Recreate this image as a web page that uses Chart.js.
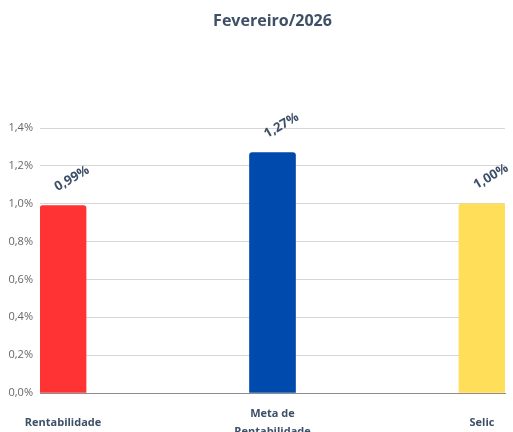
<!DOCTYPE html>
<html>
<head>
<meta charset="utf-8">
<script src="https://cdn.jsdelivr.net/npm/chart.js@4/dist/chart.umd.min.js"></script>
<style>
  html, body { margin: 0; padding: 0; background: #fff; overflow: hidden; }
  canvas { display: block; }
</style>
</head>
<body>
<canvas id="chart" width="513" height="432"></canvas>
<script>
// Chart data
const chartTitle = 'Fevereiro/2026';
const categories = [['Rentabilidade'], ['Meta de', 'Rentabilidade'], ['Selic']];
const values = [0.99, 1.27, 1.00];
const barColors = ['#FF3333', '#004AAD', '#FFDE59'];
const yTicks = [0, 0.2, 0.4, 0.6, 0.8, 1.0, 1.2, 1.4];

const fmtPct = (v, d) => v.toFixed(d).replace('.', ',') + '%';
const darkText = '#3d5068';

// draws the title over the plot area and the rotated value labels
const labelsPlugin = {
    id: 'labels',
    afterDatasetsDraw(chart) {
        const ctx = chart.ctx;
        const area = chart.chartArea;
        ctx.save();
        ctx.fillStyle = darkText;
        ctx.textAlign = 'center';
        ctx.textBaseline = 'middle';
        ctx.font = 'bold 16px "Open Sans"';
        ctx.fillText(chartTitle, (area.left + area.right) / 2, 21);

        ctx.font = 'bold 13px "Open Sans"';
        chart.getDatasetMeta(0).data.forEach((bar, i) => {
            ctx.save();
            ctx.translate(bar.x + 9, bar.y - 27);
            ctx.rotate(-30 * Math.PI / 180);
            ctx.fillText(fmtPct(values[i], 2), 0, 0);
            ctx.restore();
        });
        ctx.restore();
    }
};

const ctx = document.getElementById('chart').getContext('2d');
new Chart(ctx, {
    type: 'bar',
    data: {
        datasets: [{
            data: values.map((v, i) => ({ x: i, y: v })),
            backgroundColor: barColors,
            barThickness: 46,
            borderRadius: { topLeft: 3, topRight: 3 },
            borderSkipped: 'bottom'
        }]
    },
    options: {
        responsive: false,
        animation: false,
        layout: { padding: { top: 128, right: 8, left: 0, bottom: 0 } },
        plugins: {
            legend: { display: false },
            title: { display: false },
            tooltip: { enabled: false }
        },
        scales: {
            x: {
                type: 'linear',
                offset: false,
                min: -0.11,
                max: 2.11,
                afterBuildTicks: (scale) => {
                    scale.ticks = categories.map((_, i) => ({ value: i }));
                },
                afterFit: (scale) => {
                    scale.height = 39;
                    scale.paddingLeft = 0;
                    scale.paddingRight = 0;
                },
                grid: { display: false, drawTicks: false, offset: false },
                border: { display: true, color: '#8c8c8c', width: 1 },
                ticks: {
                    autoSkip: false,
                    maxRotation: 0,
                    padding: 21,
                    crossAlign: 'center',
                    color: darkText,
                    font: { family: 'Open Sans', size: 11, weight: 'bold', lineHeight: 1.6 },
                    callback: (v) => categories[v]
                }
            },
            y: {
                min: 0,
                max: 1.4,
                afterBuildTicks: (scale) => {
                    scale.ticks = yTicks.map(v => ({ value: v }));
                },
                afterFit: (scale) => { scale.width = 40; },
                grid: { color: '#d6d6d6', drawTicks: false },
                border: { display: false },
                ticks: {
                    padding: 7,
                    color: '#666',
                    font: { family: 'Open Sans', size: 11 },
                    callback: (v) => fmtPct(v, 1)
                }
            }
        }
    },
    plugins: [labelsPlugin]
});
</script>
</body>
</html>
